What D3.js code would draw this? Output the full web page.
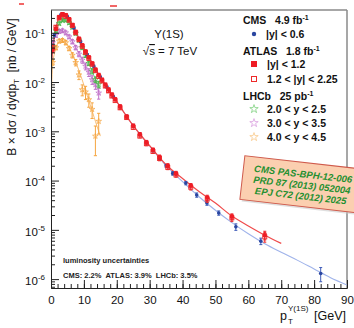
<!DOCTYPE html>
<html><head><meta charset="utf-8">
<script src="https://cdn.jsdelivr.net/npm/d3@7"></script>
<style>body{margin:0;background:#fff} svg{display:block;font-family:"Liberation Sans",Arial,Helvetica,sans-serif}</style>
</head><body><svg id="c" width="354" height="328"></svg>
<script>
// ---------------- data ----------------
const atlasPt = [0.5,1.5,2.5,3.5,4.5,5.5,6.5,7.5,8.5,9.5,10.5,11.5,12.5,13.5,14.5,15.5,16.5,17.5,18.5,19.5,21,23,25,27,29,31,33,35.5,38,42.5,47.5,55,65];
const atlasCentral = [0.045,0.12,0.21,0.24,0.23,0.19,0.145,0.105,0.076,0.056,0.042,0.032,0.024,0.018,0.014,0.0112,0.0089,0.0071,0.0056,0.0045,0.0032,0.002,0.0013,8.7e-4,6.0e-4,4.2e-4,3.0e-4,2.0e-4,1.4e-4,7.9e-5,4.5e-5,1.85e-5,7.8e-6];
const atlasCentralErr = [0.12,0.08,0.07,0.07,0.07,0.07,0.07,0.07,0.07,0.07,0.07,0.07,0.07,0.07,0.07,0.07,0.07,0.07,0.07,0.07,0.08,0.08,0.08,0.08,0.09,0.09,0.1,0.1,0.1,0.1,0.12,0.14,0.2];
const atlasForward = [0.05,0.13,0.2,0.23,0.215,0.18,0.14,0.1,0.072,0.053,0.04,0.03,0.023,0.017,0.013,0.0105,0.0083,0.0066,0.0052,0.0042,0.003,0.0019,0.0012,8.0e-4,5.6e-4,3.9e-4,2.8e-4,1.85e-4,1.3e-4,7.3e-5,4.2e-5,1.75e-5,7.2e-6];
const atlasForwardErr = [0.12,0.08,0.07,0.07,0.07,0.07,0.07,0.07,0.07,0.07,0.07,0.07,0.07,0.07,0.07,0.07,0.07,0.07,0.07,0.07,0.08,0.08,0.08,0.08,0.09,0.09,0.1,0.1,0.1,0.12,0.14,0.16,0.22];

const cmsPt = [1,3,5,7,9,11,13,15,17,19,21,23,25,27,29,31,33,35,37,41,44.3,47.4,51,56.2,63.8,82];
const cmsVal = [0.09,0.23,0.21,0.125,0.066,0.036,0.021,0.0126,0.0079,0.005,0.0032,0.002,0.0013,8.7e-4,5.9e-4,4.1e-4,2.8e-4,2.0e-4,1.4e-4,8.9e-5,5.1e-5,3.5e-5,2.2e-5,1.15e-5,5.9e-6,1.3e-6];
const cmsErr = [0.06,0.05,0.05,0.05,0.05,0.05,0.05,0.05,0.05,0.05,0.05,0.06,0.06,0.06,0.06,0.07,0.07,0.07,0.08,0.08,0.1,0.1,0.1,0.15,0.15,0.32];

const lhcbPt = [0.5,1.5,2.5,3.5,4.5,5.5,6.5,7.5,8.5,9.5,10.5,11.5,12.5,13.5,14.5];
const lhcbY20 = [0.05,0.11,0.155,0.18,0.18,0.16,0.13,0.098,0.071,0.05,0.035,0.024,0.0166,0.0112,0.009];
const lhcbY20Err = [0.08,0.07,0.07,0.07,0.07,0.07,0.07,0.08,0.08,0.09,0.1,0.1,0.12,0.13,0.15];
const lhcbY30 = [0.063,0.089,0.107,0.11,0.1,0.083,0.066,0.05,0.037,0.028,0.021,0.0158,0.0112,0.0089,0.006];
const lhcbY30Err = [0.1,0.09,0.09,0.09,0.09,0.09,0.1,0.1,0.12,0.14,0.16,0.18,0.2,0.2,0.25];
const lhcbY40 = [0.025,0.05,0.068,0.07,0.063,0.048,0.035,0.025,0.014,0.007,0.0063,0.0044,0.0028,8e-4,0.0016];
const lhcbY40Err = [0.12,0.1,0.09,0.09,0.1,0.1,0.12,0.15,0.2,0.25,0.3,0.3,0.35,0.6,0.45];

// fitted curves
const cmsFitPt = [0.05,0.5,1,2,3,4,5,6,8,10,12,15,20,25,30,35,40,45,50,55,60,65,70,75,80,85,90];
const cmsFit = [0.02,0.05,0.09,0.17,0.22,0.23,0.21,0.17,0.09,0.049,0.028,0.0126,0.004,0.0013,5.0e-4,2.0e-4,9.5e-5,4.7e-5,2.5e-5,1.4e-5,8.3e-6,5.2e-6,3.5e-6,2.4e-6,1.6e-6,1.07e-6,7.6e-7];
const atlasFitPt = [0.05,0.5,1,2,3,4,5,6,7,8,10,12,15,20,25,30,35,40,45,50,55,60,65,70];
const atlasFit = [0.02,0.045,0.08,0.17,0.235,0.24,0.21,0.165,0.125,0.09,0.048,0.028,0.0125,0.004,0.0013,5.1e-4,2.1e-4,1.1e-4,6.0e-5,3.5e-5,1.9e-5,1.2e-5,7.8e-6,5.3e-6];
const lhcbFitPt = [0.05,0.5,1.5,2.5,3.5,4.5,5.5,6.5,7.5,8.5,9.5,10.5,11.5,12.5,13.5,14.5,15];
const lhcbFit20 = [0.01,0.05,0.11,0.155,0.178,0.178,0.158,0.13,0.098,0.071,0.05,0.035,0.024,0.0166,0.0115,0.0085,0.0073];
const lhcbFit30 = [0.008,0.055,0.089,0.106,0.109,0.1,0.084,0.067,0.051,0.038,0.028,0.021,0.0155,0.0114,0.0085,0.0063,0.0055];
const lhcbFit40 = [0.004,0.022,0.048,0.065,0.068,0.062,0.05,0.037,0.026,0.017,0.011,0.0068,0.0042,0.0026,0.0016,0.001,0.0008];

const xTicks = [0,10,20,30,40,50,60,70,80,90];
const yTicks = [1e-6,1e-5,1e-4,1e-3,1e-2,1e-1];
const yExp = ["-6","-5","-4","-3","-2","-1"];

// ---------------- drawing ----------------
const NB = "\u00a0";
const svg = d3.select("#c");
const L = 51, R = 347, T = 10, B = 288;
const x = d3.scaleLinear().domain([0, 90]).range([L, R]);
const y = d3.scaleLog().domain([6.6e-7, 0.29]).range([B, T]);

svg.append("defs").append("clipPath").attr("id", "clip")
  .append("rect").attr("x", L).attr("y", T).attr("width", R - L).attr("height", B - T);

// stray red marks at the top edge
svg.append("line").attr("x1", 19).attr("x2", 24).attr("y1", 4).attr("y2", 4).attr("stroke", "#e33").attr("stroke-width", 1.5);
svg.append("line").attr("x1", 110).attr("x2", 117).attr("y1", 6).attr("y2", 6).attr("stroke", "#e33").attr("stroke-width", 1.5);

// frame
svg.append("line").attr("x1", L).attr("x2", R).attr("y1", T).attr("y2", T).attr("stroke", "#8a8a8a").attr("stroke-width", 1.3);
svg.append("line").attr("x1", R).attr("x2", R).attr("y1", T).attr("y2", B).attr("stroke", "#8a8a8a").attr("stroke-width", 1.5);

const plot = svg.append("g").attr("clip-path", "url(#clip)");

const lineGen = d3.line().x(d => x(d[0])).y(d => y(d[1])).curve(d3.curveMonotoneX);
function drawLine(pts, vals, color, w) {
  plot.append("path").datum(pts.map((p, i) => [p, vals[i]]))
    .attr("d", lineGen).attr("fill", "none").attr("stroke", color).attr("stroke-width", w);
}
drawLine(lhcbFitPt, lhcbFit40, "#f9bf78", 1);
drawLine(lhcbFitPt, lhcbFit30, "#d9a0e0", 1);
drawLine(lhcbFitPt, lhcbFit20, "#7fd07f", 1);
drawLine(cmsFitPt, cmsFit, "#9fb3ea", 1.1);
drawLine(atlasFitPt, atlasFit, "#f04a4a", 1.2);

function errBars(pts, vals, errs, color, cap, w) {
  const g = plot.append("g").attr("stroke", color).attr("stroke-width", w);
  pts.forEach((p, i) => {
    const v = vals[i], e = errs[i];
    const y1 = y(v * (1 + e)), y2 = y(Math.max(v * (1 - e), 1e-9));
    g.append("line").attr("x1", x(p)).attr("x2", x(p)).attr("y1", y1).attr("y2", y2);
    if (cap > 0) {
      g.append("line").attr("x1", x(p) - cap).attr("x2", x(p) + cap).attr("y1", y1).attr("y2", y1);
      g.append("line").attr("x1", x(p) - cap).attr("x2", x(p) + cap).attr("y1", y2).attr("y2", y2);
    }
  });
}
const star = d3.symbol().type(d3.symbolStar);

function lhcb(vals, errs, color) {
  errBars(lhcbPt, vals, errs, color, 1.6, 1);
  plot.append("g").selectAll("path").data(lhcbPt).join("path")
    .attr("transform", (p, i) => `translate(${x(p)},${y(vals[i])})`)
    .attr("d", star.size(10)()).attr("fill", "none").attr("stroke", color).attr("stroke-width", 0.7);
}
lhcb(lhcbY40, lhcbY40Err, "#f5a540");
lhcb(lhcbY30, lhcbY30Err, "#c070c8");
lhcb(lhcbY20, lhcbY20Err, "#4cb84c");

// CMS
errBars(cmsPt, cmsVal, cmsErr, "#3d5bb8", 1.5, 1);
plot.append("g").selectAll("circle").data(cmsPt).join("circle")
  .attr("cx", p => x(p)).attr("cy", (p, i) => y(cmsVal[i])).attr("r", 1.8).attr("fill", "#2a46a0");

// ATLAS forward (open)
errBars(atlasPt, atlasForward, atlasForwardErr, "#ee2a2a", 1.5, 1);
plot.append("g").selectAll("rect").data(atlasPt).join("rect")
  .attr("x", p => x(p) - 2).attr("y", (p, i) => y(atlasForward[i]) - 2)
  .attr("width", 4).attr("height", 4).attr("fill", "none").attr("stroke", "#ee2a2a").attr("stroke-width", 0.9);
// ATLAS central (filled)
errBars(atlasPt, atlasCentral, atlasCentralErr, "#ee1c25", 1.5, 1);
plot.append("g").selectAll("rect").data(atlasPt).join("rect")
  .attr("x", p => x(p) - 2).attr("y", (p, i) => y(atlasCentral[i]) - 2)
  .attr("width", 4).attr("height", 4).attr("fill", "#ee1c25");

// axes
const yMinor = [];
for (let e = -7; e <= -1; e++) for (let k = 2; k <= 9; k++) { const v = k * Math.pow(10, e); if (v > 6.6e-7 && v < 0.29) yMinor.push(v); }
svg.append("g").attr("transform", `translate(${L},0)`)
  .call(d3.axisLeft(y).tickValues(yMinor).tickSize(-4).tickSizeOuter(0).tickFormat(""))
  .call(g => g.select(".domain").attr("stroke", "#222"))
  .selectAll(".tick line").attr("stroke", "#222");
const yAx = svg.append("g").attr("transform", `translate(${L},0)`)
  .call(d3.axisLeft(y).tickValues(yTicks).tickSize(-8).tickSizeOuter(0).tickPadding(6).tickFormat(""));
yAx.select(".domain").attr("stroke", "#222");
yAx.selectAll(".tick line").attr("stroke", "#222");
yAx.selectAll(".tick text").each(function(d, i) {
  const t = d3.select(this).attr("font-size", 11.5).attr("fill", "#111").attr("font-family", "Liberation Sans, Arial, sans-serif").attr("dy", "0.45em");
  t.append("tspan").text("10");
  t.append("tspan").text(yExp[i]).attr("font-size", 8).attr("dy", "-0.6em");
});

const xMinor = d3.range(0, 91, 2);
svg.append("g").attr("transform", `translate(0,${B})`)
  .call(d3.axisBottom(x).tickValues(xMinor).tickSize(-4).tickSizeOuter(0).tickFormat(""))
  .call(g => g.select(".domain").attr("stroke", "#222"))
  .selectAll(".tick line").attr("stroke", "#222");
const xAx = svg.append("g").attr("transform", `translate(0,${B})`)
  .call(d3.axisBottom(x).tickValues(xTicks).tickSize(-8).tickSizeOuter(0).tickPadding(8).tickFormat(d3.format("d")));
xAx.select(".domain").attr("stroke", "#222");
xAx.selectAll(".tick line").attr("stroke", "#222");
xAx.selectAll(".tick text").attr("font-size", 11.5).attr("fill", "#111").attr("font-family", "Liberation Sans, Arial, sans-serif");

// axis titles
const yl = svg.append("text").attr("transform", "translate(16,87) rotate(-90)").attr("text-anchor", "middle")
  .attr("font-size", 12).attr("fill", "#111");
yl.append("tspan").text("B × dσ / dydp");
yl.append("tspan").text("T").attr("font-size", 8).attr("dy", "3");
yl.append("tspan").text(NB + NB + "[nb / GeV]").attr("dy", "-3");

const xl = svg.append("g").attr("fill", "#111").attr("font-size", 12.5);
xl.append("text").attr("x", 280).attr("y", 320).text("p");
xl.append("text").attr("x", 288).attr("y", 324).attr("font-size", 8).text("T");
xl.append("text").attr("x", 288).attr("y", 311).attr("font-size", 8).text("Υ(1S)");
xl.append("text").attr("x", 346).attr("y", 320).attr("text-anchor", "end").text("[GeV]");

// title
svg.append("text").attr("x", 169).attr("y", 38).attr("text-anchor", "middle").attr("font-size", 11.5).attr("fill", "#111").text("Υ(1S)");
const rs = svg.append("text").attr("x", 170).attr("y", 55).attr("text-anchor", "middle").attr("font-size", 11.5).attr("fill", "#111");
rs.append("tspan").text("√");
rs.append("tspan").text("s").attr("text-decoration", "overline");
rs.append("tspan").text(" = 7 TeV");

// legend
const lg = svg.append("g").attr("font-size", 10.5).attr("font-weight", "bold").attr("fill", "#111");
function header(yb, a, b, sup) {
  const t = lg.append("text").attr("x", 243).attr("y", yb);
  t.append("tspan").text(a + NB + NB + NB + b);
  t.append("tspan").text(sup).attr("font-size", 7).attr("dy", "-4");
}
header(24, "CMS", "4.9 fb", "-1");
header(55, "ATLAS", "1.8 fb", "-1");
header(100, "LHCb", "25 pb", "-1");
lg.append("circle").attr("cx", 254).attr("cy", 34).attr("r", 2.2).attr("fill", "#2a46a0");
lg.append("text").attr("x", 266).attr("y", 38).text("|y| < 0.6");
lg.append("rect").attr("x", 251).attr("y", 61).attr("width", 6).attr("height", 6).attr("fill", "#ee1c25");
lg.append("text").attr("x", 267).attr("y", 68).text("|y| < 1.2");
lg.append("rect").attr("x", 251.5).attr("y", 76.5).attr("width", 5).attr("height", 5).attr("fill", "none").attr("stroke", "#ee2a2a").attr("stroke-width", 1);
lg.append("text").attr("x", 267).attr("y", 83).text("1.2 < |y| < 2.25");
[[109, "#7fd07f", "2.0 < y < 2.5"], [123, "#d9a0e0", "3.0 < y < 3.5"], [137, "#f9c98a", "4.0 < y < 4.5"]].forEach(r => {
  lg.append("path").attr("transform", `translate(254,${r[0]})`).attr("d", d3.symbol().type(d3.symbolStar).size(22)())
    .attr("fill", "none").attr("stroke", r[1]).attr("stroke-width", 0.8);
  lg.append("text").attr("x", 267).attr("y", r[0] + 4).text(r[2]);
});

// luminosity note
const ln = svg.append("g").attr("font-size", 7.5).attr("font-weight", "bold").attr("fill", "#222");
ln.append("text").attr("x", 63).attr("y", 263).text("luminosity uncertainties");
ln.append("text").attr("x", 63).attr("y", 278).text("CMS: 2.2%" + NB + NB + "ATLAS: 3.9%" + NB + NB + "LHCb: 3.5%");

// reference box
const bx = svg.append("g").attr("transform", "translate(299,184) rotate(6.5)");
bx.append("rect").attr("x", -55).attr("y", -20).attr("width", 118).attr("height", 44).attr("fill", "#c9c9c9").attr("opacity", 0.6);
bx.append("rect").attr("x", -57).attr("y", -22).attr("width", 118).attr("height", 44).attr("fill", "#fbcfb0").attr("stroke", "#cf5a4c").attr("stroke-width", 1);
const bt = bx.append("g").attr("font-size", 9.5).attr("font-style", "italic").attr("font-weight", "bold").attr("fill", "#1f9030").attr("text-anchor", "middle");
bt.append("text").attr("x", 3).attr("y", -7).text("CMS PAS-BPH-12-006");
bt.append("text").attr("x", 3).attr("y", 4).text("PRD 87 (2013) 052004");
bt.append("text").attr("x", 3).attr("y", 15).text("EPJ C72 (2012) 2025");
</script></body></html>
